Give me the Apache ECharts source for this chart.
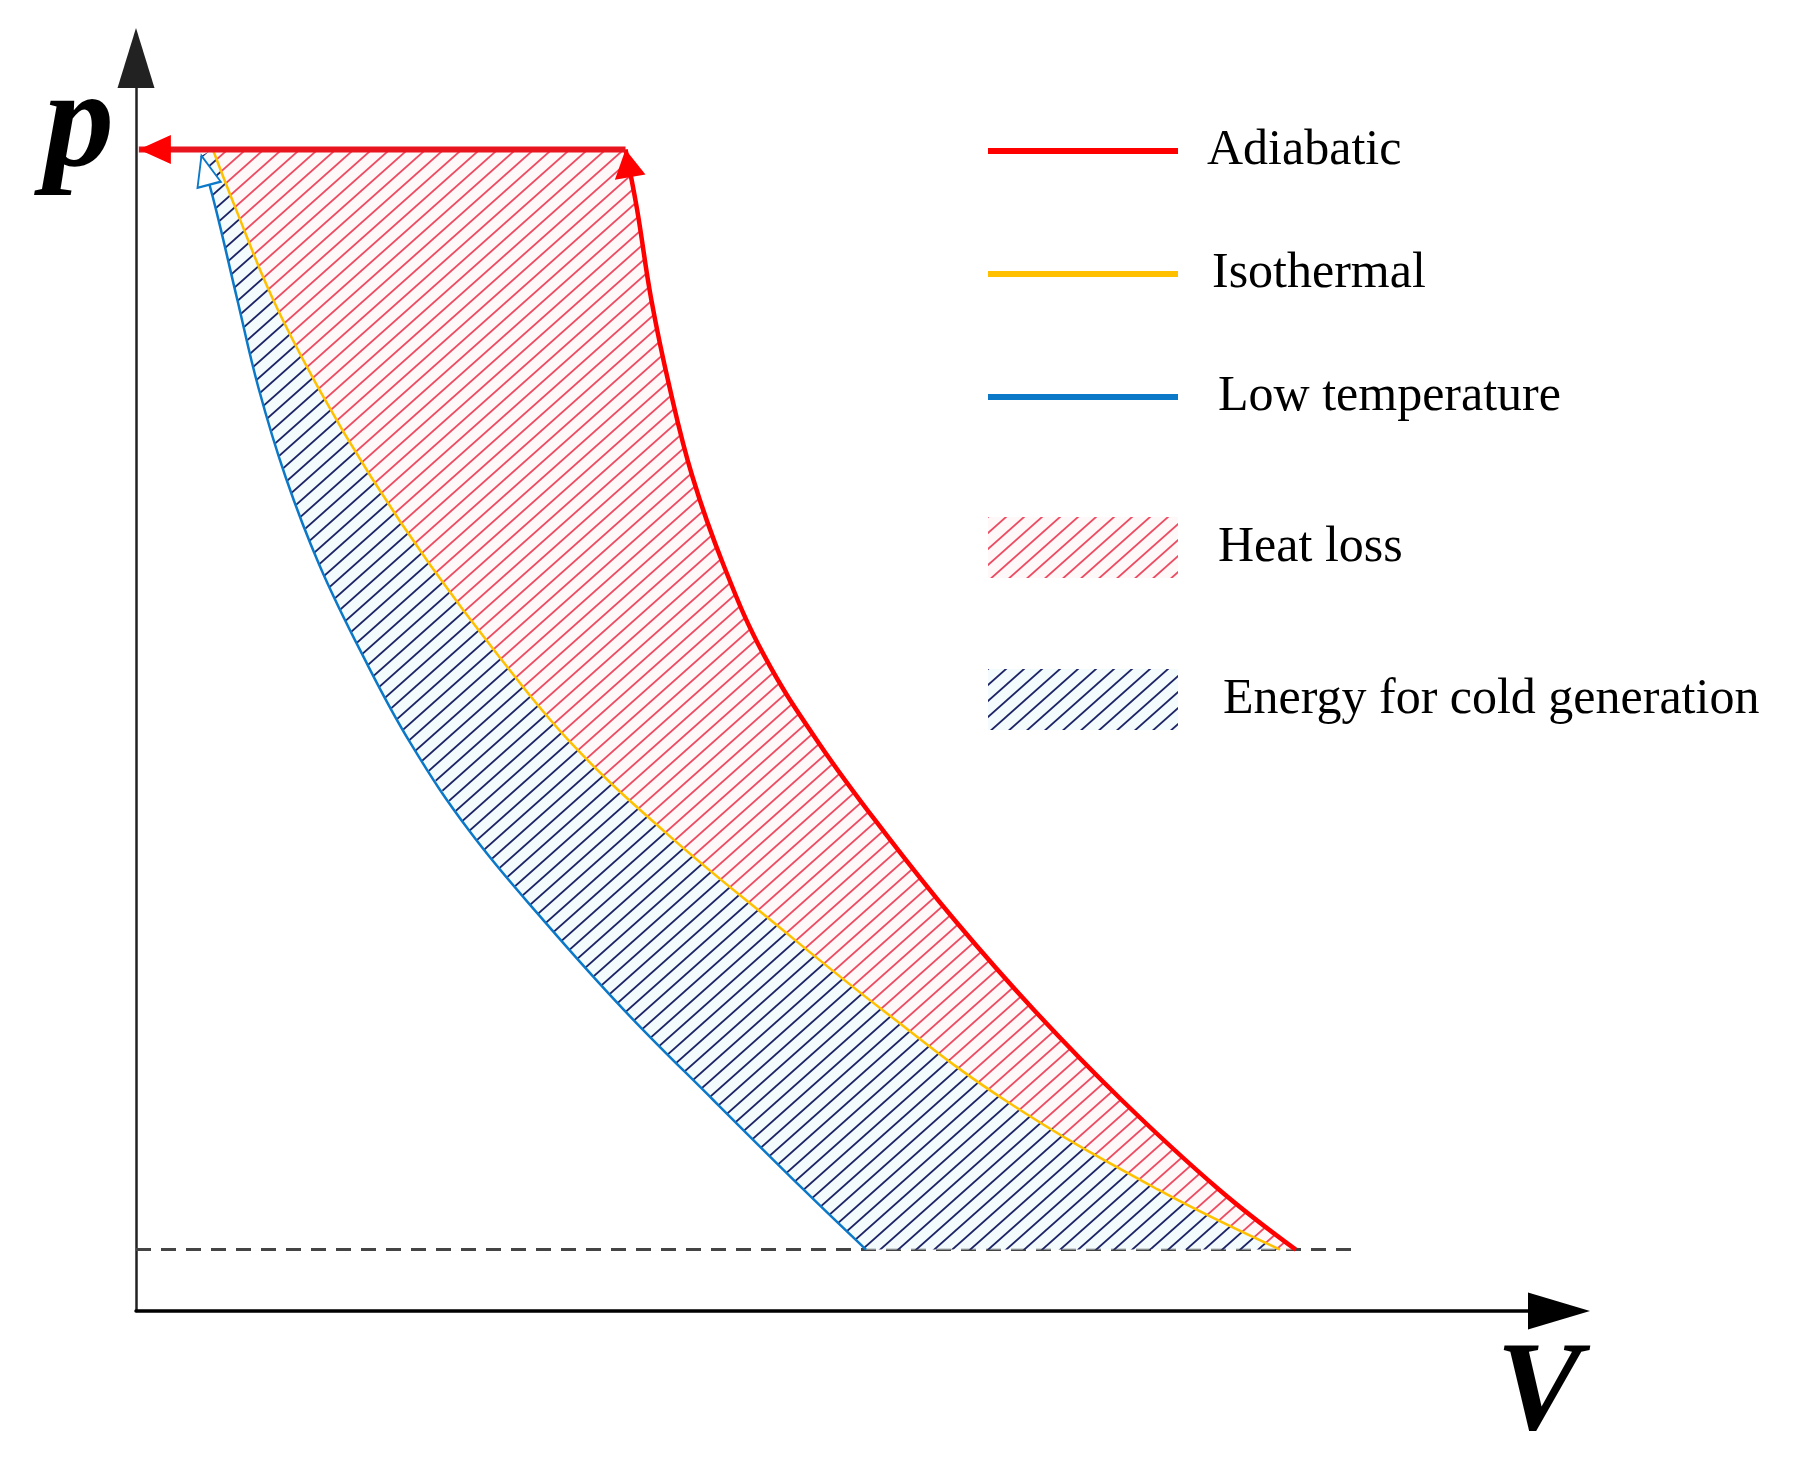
<!DOCTYPE html>
<html>
<head>
<meta charset="utf-8">
<title>p-V diagram</title>
<script src="https://cdn.jsdelivr.net/npm/echarts@6/dist/echarts.min.js"></script>
<style>
    html, body { margin: 0; padding: 0; background: #fff; }
    #chart { width: 1807px; height: 1471px; }
</style>
</head>
<body>
<div id="chart"></div>
<script>
    // [V, p] pairs (arbitrary units, axes run 0..100)
    var adiabatic = [[34.4, 92.7], [35.2, 88.0], [36.2, 80.8], [37.5, 73.7], [39.1, 66.6], [41.3, 59.5], [44.1, 52.4],
        [48.0, 45.3], [52.6, 38.2], [57.6, 31.1], [63.2, 23.9], [69.3, 16.8], [76.1, 9.7], [81.5, 4.9]];
    var isothermal = [[5.4, 92.7], [7.0, 88.0], [9.6, 80.8], [12.8, 73.7], [16.5, 66.6], [20.7, 59.5], [25.4, 52.4],
        [30.6, 45.3], [37.2, 38.2], [44.7, 31.1], [52.6, 23.9], [61.1, 16.8], [71.8, 9.7], [80.4, 4.9]];
    var lowTemp = [[4.6, 92.2], [5.6, 88.0], [7.1, 80.8], [8.6, 73.7], [10.5, 66.6], [12.9, 59.5], [15.9, 52.4],
        [19.3, 45.3], [23.5, 38.2], [28.7, 31.1], [34.4, 23.9], [40.6, 16.8], [46.9, 9.7], [51.3, 4.9]];
    var storageLine = [[34.4, 92.7], [0.2, 92.7]];
    var ambientLine = [[0, 4.9], [86.0, 4.9]];

    var legendNames = ['Adiabatic', 'Isothermal', 'Low temperature', 'Heat loss', 'Energy for cold generation'];

    // legend placement: top, text padding-left
    var legendTops = [121, 244, 367, 512, 664];
    var legendTextPad = [24, 29, 35, 35, 40];

    var serif = '"Liberation Serif", "Times New Roman", serif';

    // diagonal hatch tile
    var hatch = function (lineColor, bgColor) {
        var w = 18, h = 16;
        var c = document.createElement('canvas');
        c.width = w;
        c.height = h;
        var ctx = c.getContext('2d');
        if (bgColor) {
            ctx.fillStyle = bgColor;
            ctx.fillRect(0, 0, w, h);
        }
        ctx.strokeStyle = lineColor;
        ctx.lineWidth = 1.8;
        for (var k = -1; k <= 1; k++) {
            ctx.beginPath();
            ctx.moveTo(k * w - w, 2 * h);
            ctx.lineTo(k * w + 2 * w, -h);
            ctx.stroke();
        }
        return c;
    };

    var redHatch = {image: hatch('#ec4c62', 'rgba(255,246,247,0.8)'), repeat: 'repeat'};
    var blueHatch = {image: hatch('#1c2466', 'rgba(240,250,253,0.8)'), repeat: 'repeat'};

    // arrow head on the first point of a line
    var arrowHead = function (point, symbol, size, rotate) {
        var rad = rotate * Math.PI / 180;
        return {
            value: point,
            symbol: symbol,
            symbolSize: size,
            symbolRotate: rotate,
            symbolOffset: [Math.sin(rad) * size[1] / 2, Math.cos(rad) * size[1] / 2]
        };
    };

    var withArrow = function (arr, symbol, size, rotate) {
        return arr.map(function (d, i) {
            return i === 0 ? arrowHead(d, symbol, size, rotate) : d;
        });
    };

    var areaSeries = function (name, fill, points) {
        return {
            type: 'custom',
            name: name,
            coordinateSystem: 'cartesian2d',
            data: [[0, 0]],
            silent: true,
            clip: false,
            z: 1,
            itemStyle: {color: fill},
            renderItem: function (params, api) {
                return {
                    type: 'polygon',
                    shape: {points: points.map(function (d) { return api.coord(d); })},
                    style: {fill: fill}
                };
            }
        };
    };

    var chart = echarts.init(document.getElementById('chart'));

    var option = {
        animation: false,
        backgroundColor: '#fff',
        grid: {left: 136, top: 58, right: 248, bottom: 160, outerBoundsMode: 'none'},
        legend: legendNames.map(function (name, i) {
            var isArea = i >= 3;
            return {
                data: [name],
                left: 983,
                top: legendTops[i],
                orient: 'vertical',
                selectedMode: false,
                itemWidth: 190,
                itemHeight: isArea ? 61 : 6,
                icon: 'rect',
                textStyle: {
                    fontFamily: serif,
                    fontSize: 50,
                    color: '#000',
                    padding: [0, 0, 0, legendTextPad[i]]
                }
            };
        }),
        xAxis: {
            type: 'value',
            min: 0,
            max: 100,
            name: 'V',
            nameLocation: 'end',
            nameGap: -20,
            nameTextStyle: {
                fontFamily: serif,
                fontWeight: 'bold',
                fontStyle: 'italic',
                fontSize: 128,
                lineHeight: 170,
                color: '#000',
                align: 'center',
                verticalAlign: 'top'
            },
            axisLine: {
                onZero: false,
                symbol: ['none', 'triangle'],
                symbolSize: [37, 62],
                lineStyle: {color: '#000', width: 3.5}
            },
            axisTick: {show: false},
            axisLabel: {show: false},
            splitLine: {show: false}
        },
        yAxis: {
            type: 'value',
            min: 0,
            max: 100,
            name: 'p',
            nameLocation: 'end',
            nameGap: -71,
            nameTextStyle: {
                fontFamily: serif,
                fontWeight: 'bold',
                fontStyle: 'italic',
                fontSize: 140,
                color: '#000',
                align: 'right',
                verticalAlign: 'middle',
                padding: [0, 22, 0, 0]
            },
            axisLine: {
                onZero: false,
                symbol: ['none', 'triangle'],
                symbolSize: [37, 60],
                lineStyle: {color: '#222', width: 2.5}
            },
            axisTick: {show: false},
            axisLabel: {show: false},
            splitLine: {show: false}
        },
        series: [
            areaSeries('Heat loss', redHatch, adiabatic.concat(isothermal.slice().reverse())),
            areaSeries('Energy for cold generation', blueHatch, isothermal.concat(lowTemp.slice().reverse())),
            {
                type: 'line',
                name: 'ambient',
                data: ambientLine,
                symbol: 'none',
                silent: true,
                z: 0,
                lineStyle: {color: '#444', width: 3, type: [15, 10]}
            },
            {
                type: 'line',
                name: 'Isothermal',
                data: isothermal,
                symbol: 'none',
                smooth: 0.4,
                silent: true,
                z: 3,
                lineStyle: {color: '#ffc000', width: 2.5},
                itemStyle: {color: '#ffc000'}
            },
            {
                type: 'line',
                name: 'Low temperature',
                data: withArrow(lowTemp, 'emptyTriangle', [24, 30], 14.8),
                symbol: 'none',
                smooth: 0.4,
                silent: true,
                z: 3,
                lineStyle: {color: '#0b78c8', width: 2.5},
                itemStyle: {color: '#0b78c8', borderWidth: 3}
            },
            {
                type: 'line',
                name: 'Adiabatic',
                data: withArrow(adiabatic, 'triangle', [31, 28], 9.6),
                symbol: 'none',
                smooth: 0.4,
                silent: true,
                z: 4,
                lineStyle: {color: '#ff0000', width: 4.5},
                itemStyle: {color: '#ff0000'}
            },
            {
                type: 'line',
                name: 'storage',
                data: withArrow(storageLine.slice().reverse(), 'triangle', [29, 32], 90),
                symbol: 'none',
                silent: true,
                z: 5,
                lineStyle: {color: '#e8141e', width: 6},
                itemStyle: {color: '#ff0000'}
            }
        ]
    };

    chart.setOption(option);
</script>
</body>
</html>
